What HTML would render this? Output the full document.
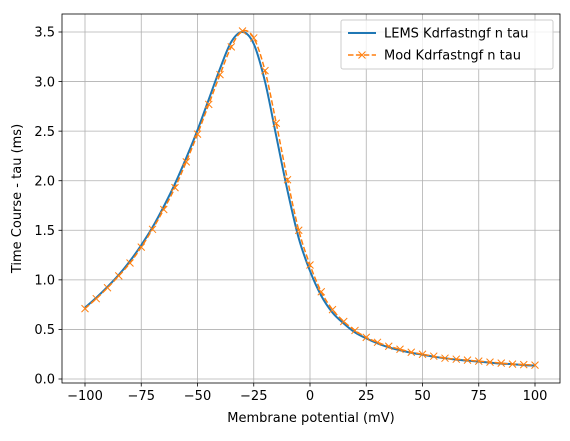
<!DOCTYPE html>
<html><head><meta charset="utf-8"><style>
body{margin:0;background:#fff;font-family:"Liberation Sans","DejaVu Sans",sans-serif;}
svg text{font-family:"DejaVu Sans","Liberation Sans",sans-serif;font-size:13px;fill:#000;}
</style></head><body>
<svg id="chart" width="570" height="436" viewBox="0 0 570 436" xmlns="http://www.w3.org/2000/svg">
<rect width="570" height="436" fill="#fff"/>
<g id="grid"></g><g id="series"></g><g id="axes"></g>
</svg>
<script>
const xs=[-100,-95,-90,-85,-80,-75,-70,-65,-60,-55,-50,-45,-40,-35,-30,-25,-20,-15,-10,-5,0,5,10,15,20,25,30,35,40,45,50,55,60,65,70,75,80,85,90,95,100];
const modVals=[0.71,0.81,0.92,1.04,1.17,1.33,1.51,1.71,1.93,2.19,2.47,2.77,3.07,3.35,3.51,3.44,3.11,2.58,2.01,1.50,1.15,0.88,0.70,0.58,0.49,0.42,0.37,0.33,0.30,0.27,0.25,0.23,0.21,0.20,0.19,0.18,0.17,0.16,0.15,0.145,0.14];
const lemsVals=[0.72,0.82,0.93,1.05,1.19,1.35,1.53,1.74,1.97,2.23,2.51,2.82,3.13,3.40,3.50,3.38,3.00,2.45,1.90,1.42,1.09,0.84,0.67,0.56,0.47,0.41,0.36,0.32,0.29,0.265,0.245,0.225,0.21,0.195,0.185,0.175,0.165,0.155,0.15,0.14,0.135];
const xTicks=[-100,-75,-50,-25,0,25,50,75,100];
const yTicks=[0,0.5,1,1.5,2,2.5,3,3.5];
const L=62,R=560,T=14,B=383;
const X=v=>85+(v+100)*2.25;
const Y=v=>379-v*(347/3.5);
const NS='http://www.w3.org/2000/svg';
function mk(p,tag,a){const e=document.createElementNS(NS,tag);for(const k in a)e.setAttribute(k,a[k]);p.appendChild(e);return e;}
const g=document.getElementById('grid'),s=document.getElementById('series'),ax=document.getElementById('axes');
xTicks.forEach(t=>{const x=X(t);
 const gl=mk(g,'line',{x1:x,x2:x,y1:T,y2:B,stroke:'#b0b0b0','stroke-width':0.8});
 
 mk(ax,'line',{x1:x,x2:x,y1:B,y2:B+3.5,stroke:'#000','stroke-width':0.8});
 const tx=mk(ax,'text',{x:x,y:B+17,'text-anchor':'middle'});tx.textContent=String(t).replace('-','\u2212');
 });
yTicks.forEach(t=>{const y=Y(t);
 const gl=mk(g,'line',{x1:L,x2:R,y1:y,y2:y,stroke:'#b0b0b0','stroke-width':0.8});
 
 mk(ax,'line',{x1:L-3.5,x2:L,y1:y,y2:y,stroke:'#000','stroke-width':0.8});
 const tx=mk(ax,'text',{x:L-7,y:y+4.7,'text-anchor':'end'});tx.textContent=t.toFixed(1);
 });
function smooth(vals){const p=xs.map((x,i)=>[X(x),Y(vals[i])]);let d='M'+p[0][0]+','+p[0][1];
 for(let i=0;i<p.length-1;i++){const p0=p[i-1]||p[i],p1=p[i],p2=p[i+1],p3=p[i+2]||p2;
  d+=` C${p1[0]+(p2[0]-p0[0])/6},${p1[1]+(p2[1]-p0[1])/6} ${p2[0]-(p3[0]-p1[0])/6},${p2[1]-(p3[1]-p1[1])/6} ${p2[0]},${p2[1]}`;}return d;}
const lem=mk(s,'path',{d:smooth(lemsVals),fill:'none',stroke:'#1f77b4','stroke-width':2});

const mod=mk(s,'path',{d:smooth(modVals),fill:'none',stroke:'#ff7f0e','stroke-width':1.5,'stroke-dasharray':'5.5,2.4'});

xs.forEach((x,i)=>{const cx=X(x),cy=Y(modVals[i]);
 const m=mk(s,'path',{d:`M${cx-3.5},${cy-3.5}L${cx+3.5},${cy+3.5}M${cx-3.5},${cy+3.5}L${cx+3.5},${cy-3.5}`,stroke:'#ff7f0e','stroke-width':1});
 });
const fr=mk(ax,'rect',{x:L,y:T,width:R-L,height:B-T,fill:'none',stroke:'#000','stroke-width':0.8});

const xl=mk(ax,'text',{x:(L+R)/2,y:422,'text-anchor':'middle'});xl.textContent='Membrane potential (mV)';

const yl=mk(ax,'text',{x:21,y:(T+B)/2,'text-anchor':'middle',transform:`rotate(-90 21 ${(T+B)/2})`});yl.textContent='Time Course - tau (ms)';

const lg=mk(ax,'g',{});
mk(lg,'rect',{x:341,y:20,width:212,height:49,rx:2,fill:'#fff','fill-opacity':0.8,stroke:'#ccc'});
mk(lg,'line',{x1:348,x2:376,y1:33,y2:33,stroke:'#1f77b4','stroke-width':2});
mk(lg,'line',{x1:348,x2:376,y1:55,y2:55,stroke:'#ff7f0e','stroke-width':1.5,'stroke-dasharray':'5.5,2.4'});
mk(lg,'path',{d:'M358.5,51.5L365.5,58.5M358.5,58.5L365.5,51.5',stroke:'#ff7f0e','stroke-width':1});
const l1=mk(lg,'text',{x:384,y:37.5});l1.textContent='LEMS Kdrfastngf n tau';

const l2=mk(lg,'text',{x:384,y:59.5});l2.textContent='Mod Kdrfastngf n tau';

</script>
</body></html>
